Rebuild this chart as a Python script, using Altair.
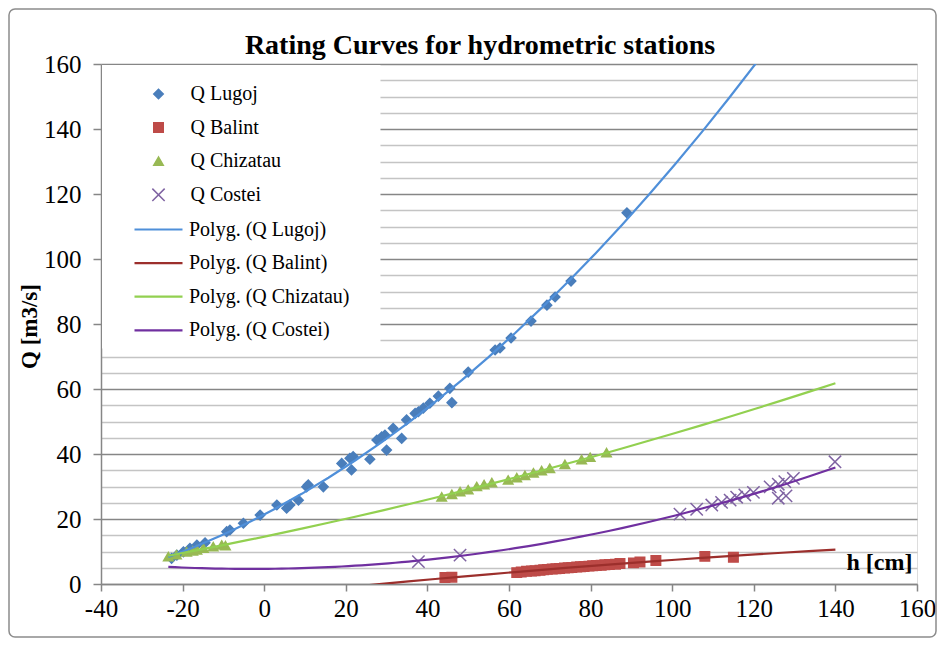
import altair as alt
import pandas as pd

FONT = "Liberation Serif"

series_names = ["Q Lugoj", "Q Balint", "Q Chizatau", "Q Costei"]
fit_names = ["Polyg. (Q Lugoj)", "Polyg. (Q Balint)", "Polyg. (Q Chizatau)", "Polyg. (Q Costei)"]
marker_colors = ["#4a7ebb", "#be4b48", "#98b954", "#7f63a2"]
line_colors = ["#4f8fd9", "#9c2f2c", "#92d050", "#7030a0"]
shapes = ["diamond", "square", "triangle-up", "M-1.3,-1.3L1.3,1.3M-1.3,1.3L1.3,-1.3"]

lugoj_h = [-22.7, -21.4, -19.8, -18.2, -16.5, -14.5, -9.2, -8.4, -5.1, -1.0, 3.1, 5.5, 6.3, 8.4,
           10.4, 10.8, 14.5, 19.0, 21.0, 21.8, 21.4, 25.9, 27.6, 28.8, 29.6, 30.0, 31.6, 33.7,
           34.9, 37.0, 37.8, 39.0, 40.6, 42.7, 45.5, 46.0, 50.0, 56.6, 57.8, 60.5, 65.4, 69.3,
           71.3, 75.2, 88.9]
lugoj_q = [7.9, 8.9, 9.9, 11.0, 12.0, 12.7, 16.1, 16.6, 18.7, 21.2, 24.3, 23.3, 24.3, 25.8,
           29.9, 30.5, 29.9, 37.1, 38.7, 39.2, 35.1, 38.4, 44.3, 45.3, 45.8, 41.2, 47.9, 44.8,
           50.5, 52.5, 53.0, 54.1, 55.6, 57.8, 60.2, 55.8, 65.2, 72.0, 72.6, 75.7, 80.9, 85.8,
           88.3, 93.2, 114.2]

balint_h = [44.3, 46.0, 61.9, 63.0, 64.3, 65.5, 66.4, 67.6, 68.5, 69.4, 70.6, 71.5, 72.4, 73.6,
            74.5, 75.4, 76.6, 77.5, 78.4, 79.6, 80.5, 81.4, 82.6, 83.5, 84.6, 86.1, 87.2, 90.5,
            92.1, 96.0, 108.0, 115.0]
balint_q = [2.0, 2.1, 3.5, 3.7, 3.9, 4.0, 4.1, 4.2, 4.4, 4.5, 4.6, 4.7, 4.8, 4.9,
            5.0, 5.1, 5.2, 5.3, 5.4, 5.5, 5.6, 5.7, 5.8, 5.9, 6.0, 6.1, 6.3, 6.5,
            6.8, 7.2, 8.5, 8.2]

chizatau_h = [-23.5, -21.5, -19.0, -17.5, -16.5, -14.9, -12.5, -10.4, -9.5,
              43.5, 46.0, 48.0, 50.0, 52.1, 53.9, 55.8, 59.8, 61.9, 63.9, 66.0, 68.0, 70.0,
              73.7, 77.8, 79.9, 83.9]
chizatau_q = [8.4, 9.0, 9.9, 10.2, 10.5, 11.0, 11.5, 12.0, 11.8,
              26.8, 27.6, 28.4, 29.0, 30.0, 30.6, 31.2, 32.0, 32.7, 33.4, 34.2, 34.9, 35.6,
              36.8, 38.3, 39.0, 40.4]

costei_h = [37.8, 48.0, 101.9, 106.0, 109.7, 112.1, 114.2, 115.8, 117.8, 119.9, 124.0, 126.0,
            127.6, 129.7, 126.0, 127.9, 139.9]
costei_q = [6.9, 8.9, 21.5, 23.0, 24.3, 25.1, 25.8, 26.7, 27.4, 28.2, 29.9, 30.7,
            31.5, 32.5, 26.4, 27.1, 37.6]

rows = []
for name, hs, qs in zip(series_names,
                        [lugoj_h, balint_h, chizatau_h, costei_h],
                        [lugoj_q, balint_q, chizatau_q, costei_q]):
    for h, q in zip(hs, qs):
        rows.append({"series": name, "h": h, "Q": q})
df = pd.DataFrame(rows)

# white box behind the legend (data coordinates)
backdrop = pd.DataFrame({"h": [-39.75], "h2": [28.5], "Q": [72.5], "Q2": [159.7]})

x_scale = alt.Scale(domain=[-40, 160], nice=False, zero=False)
y_scale = alt.Scale(domain=[0, 160], nice=False, zero=False)

x_axis = alt.Axis(
    values=list(range(-40, 161, 20)), labelExpr="'' + datum.value", grid=False,
    title="h [cm]", titleFont=FONT, titleFontSize=24, titleFontWeight="bold", titleColor="black",
    titleAlign="right", titleBaseline="alphabetic", titleX=811, titleY=-15, titleAngle=0,
    labelFont=FONT, labelFontSize=25, labelColor="black", labelPadding=5, labelFlush=False,
    domainColor="#868686", domainWidth=1.5, tickColor="#868686", tickWidth=1.5, tickSize=7,
)
y_axis = alt.Axis(
    values=list(range(0, 161, 5)),
    labelExpr="datum.value % 20 === 0 ? '' + datum.value : ''",
    labelOverlap=False,
    grid=True,
    gridColor={"condition": {"test": "datum.value % 20 === 0", "value": "#868686"}, "value": "#c4c4c4"},
    gridWidth=1.4,
    tickSize={"condition": {"test": "datum.value % 20 === 0", "value": 8}, "value": 0},
    title="Q [m3/s]", titleFont=FONT, titleFontSize=23, titleFontWeight="bold", titleColor="black",
    titleAngle=270, titleX=-60, titleY=262, titleAlign="center", titleBaseline="bottom",
    labelFont=FONT, labelFontSize=25, labelColor="black", labelPadding=12,
    domainColor="#868686", domainWidth=1.5, tickColor="#868686", tickWidth=1.5,
)

x_enc = alt.X("h:Q", scale=x_scale, axis=x_axis)
y_enc = alt.Y("Q:Q", scale=y_scale, axis=y_axis)

legend_points = alt.Legend(
    orient="none", legendX=47.5, legendY=20, padding=0,
    symbolSize=90, symbolStrokeWidth=1.5, symbolOpacity=1,
    labelFont=FONT, labelFontSize=20, labelColor="black", labelOffset=22, rowPadding=13.6,
    labelLimit=400,
)
legend_lines = alt.Legend(
    orient="none", legendX=46, legendY=154, padding=0,
    symbolType="M-2.4,0L2.4,0", symbolSize=400, symbolStrokeWidth=2.2,
    labelFont=FONT, labelFontSize=20, labelColor="black", labelOffset=19, rowPadding=11.6,
    labelLimit=400,
)

back = alt.Chart(backdrop).mark_rect(fill="white").encode(
    x=x_enc, x2="h2:Q", y=y_enc, y2="Q2:Q"
)

points = alt.Chart(df).mark_point(opacity=1, size=90, strokeWidth=1.5).encode(
    x=x_enc, y=y_enc,
    fill=alt.Fill("series:N", scale=alt.Scale(domain=series_names, range=marker_colors),
                  legend=legend_points, title=None),
    stroke=alt.Stroke("series:N", scale=alt.Scale(domain=series_names, range=marker_colors),
                      legend=legend_points, title=None),
    shape=alt.Shape("series:N", scale=alt.Scale(domain=series_names, range=shapes),
                    legend=legend_points, title=None),
)

lines = alt.Chart(df).transform_regression(
    "h", "Q", method="poly", order=2, groupby=["series"], extent=[-23.5, 140]
).transform_calculate(
    fit="'Polyg. (' + datum.series + ')'"
).mark_line(strokeWidth=2.2, clip=True).encode(
    x=x_enc, y=y_enc,
    color=alt.Color("fit:N", scale=alt.Scale(domain=fit_names, range=line_colors),
                    legend=legend_lines, title=None),
)

border = alt.Chart(pd.DataFrame({"a": [0]})).mark_rect(
    fillOpacity=0, stroke="#8c8c8c", strokeWidth=1.5, cornerRadius=6, clip=False
).encode(x=alt.value(-92), x2=alt.value(835), y=alt.value(-55), y2=alt.value(573))

chart = alt.layer(back, points, lines, border).resolve_scale(
    fill="independent", stroke="independent", shape="independent", color="independent"
).properties(
    width=816, height=520,
    autosize=alt.AutoSizeParams(type="none"),
    padding={"left": 93, "top": 56, "right": 20, "bottom": 54},
    title=alt.Title("Rating Curves for hydrometric stations", font=FONT, fontSize=28,
                    fontWeight="bold", color="black", anchor="middle", frame="group",
                    baseline="alphabetic", offset=0, dy=74, dx=-29),
).configure_view(stroke=None).configure(background="white")

chart.save("out.html", embed_options={"renderer": "svg", "actions": False})
